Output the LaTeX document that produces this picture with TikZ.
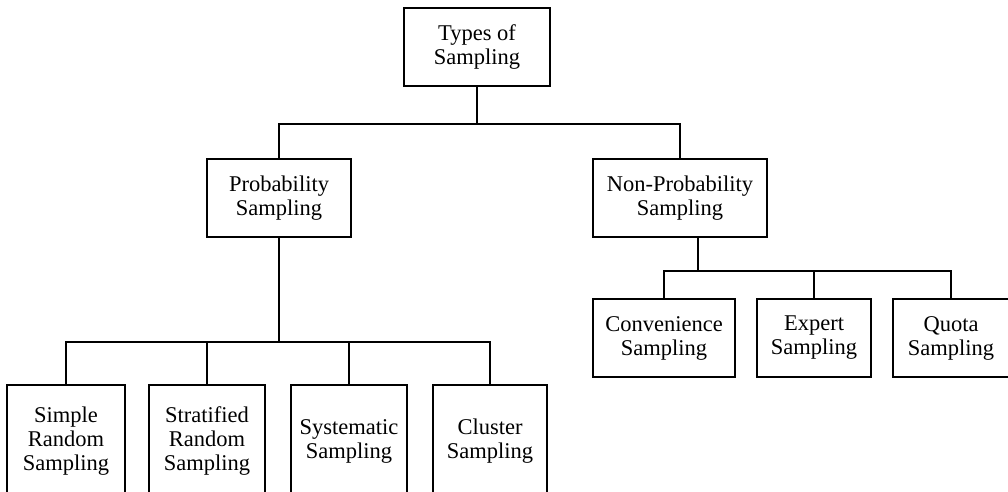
\documentclass[tikz,border=0pt]{standalone}
\usepackage{fontspec}
\setmainfont{Liberation Serif}
\begin{document}
\begin{tikzpicture}[x=1pt,y=-1pt,
  box/.style={draw=black, line width=2pt, rectangle, align=center, inner sep=0pt,
    font=\fontsize{22.5}{24}\selectfont},
  link/.style={draw=black, line width=2pt}]
\useasboundingbox (0,0) rectangle (1008,491);
\fill[white] (0,0) rectangle (1008,491);
\clip (0,0) rectangle (1008,491);

% root
\node[box, minimum width=146pt, minimum height=78pt] (top) at (477,47) {Types of\\Sampling};

% second level
\node[box, minimum width=144pt, minimum height=78pt] (prob) at (279,198) {Probability\\Sampling};
\node[box, minimum width=174pt, minimum height=78pt] (nonprob) at (680,198) {Non-Probability\\Sampling};

% probability sampling methods
\node[box, minimum width=118pt, minimum height=112pt] (simple) at (66,441) {Simple\\Random\\Sampling};
\node[box, minimum width=116pt, minimum height=112pt] (strat) at (207,441) {Stratified\\Random\\Sampling};
\node[box, minimum width=116pt, minimum height=112pt] (syst) at (349,441) {Systematic\\Sampling};
\node[box, minimum width=114pt, minimum height=112pt] (cluster) at (490,441) {Cluster\\Sampling};

% non-probability sampling methods
\node[box, minimum width=142pt, minimum height=78pt] (conv) at (664,338) {Convenience\\Sampling};
\node[box, minimum width=114pt, minimum height=78pt] (expert) at (814,338) {Expert\\Sampling};
\node[box, minimum width=116pt, minimum height=78pt] (quota) at (951,338) {Quota\\Sampling};

% junctions
\coordinate (j1) at (477,124);
\coordinate (j2) at (279,342);
\coordinate (j3) at (698,271);

% connectors
\draw[link] (top.south) -- (j1);
\draw[link] (prob.north) |- (j1) -| (nonprob.north);

\draw[link] (prob.south) -- (j2);
\draw[link] (simple.north) |- (j2) -| (cluster.north);
\draw[link] (strat.north) -- (strat.north |- j2);
\draw[link] (syst.north) -- (syst.north |- j2);

\draw[link] (nonprob.south -| j3) -- (j3);
\draw[link] (conv.north) |- (j3) -| (quota.north);
\draw[link] (expert.north) -- (expert.north |- j3);
\end{tikzpicture}
\end{document}
